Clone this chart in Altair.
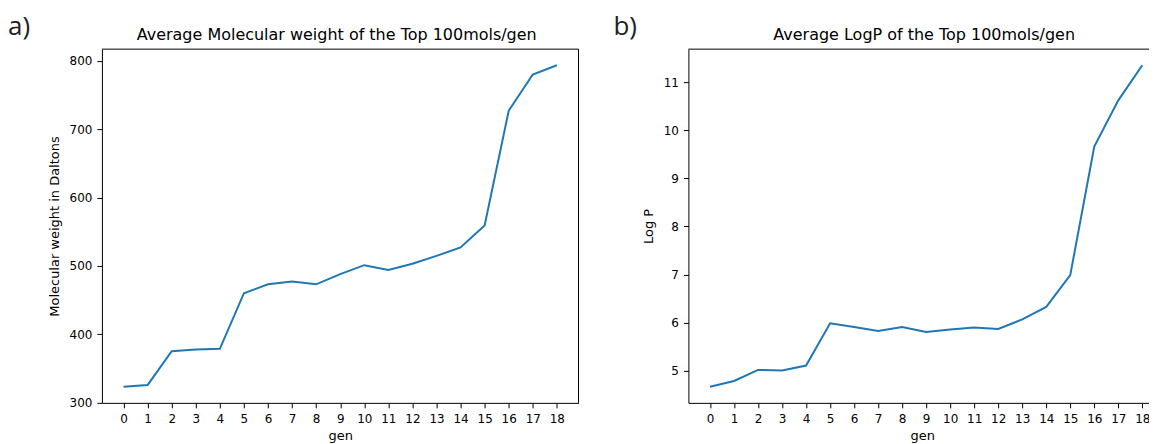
import altair as alt
import pandas as pd

gen = list(range(19))
mol_weight = [323, 325.7, 375, 377.7, 378.6, 460, 473, 477, 473, 488, 501, 494,
              503, 514.6, 527, 559, 727, 780, 793.7]
logp = [4.67, 4.79, 5.02, 5.01, 5.11, 5.99, 5.91, 5.83, 5.91, 5.81, 5.86, 5.90,
        5.87, 6.07, 6.33, 6.99, 9.66, 10.62, 11.35]

title_a = "Average Molecular weight of the Top 100mols/gen"
title_b = "Average LogP of the Top 100mols/gen"
ylabel_a = "Molecular weight in Daltons"
ylabel_b = "Log P"
xlabel = "gen"
panel_labels = ["a)", "b)"]
yticks_a = [300, 400, 500, 600, 700, 800]
yticks_b = [5, 6, 7, 8, 9, 10, 11]

df = pd.DataFrame({"gen": gen, "mw": mol_weight, "logp": logp})

FONT = "DejaVu Sans"
LINE = "#1f77b4"
H = 354
WA = 477
WB = 468


def panel(field, title, ylab, ydomain, yticks, xdomain, width, label, label_dx,
          title_cx, right_border):
    base = alt.Chart(df)
    line = base.mark_line(color=LINE, strokeWidth=2).encode(
        x=alt.X("gen:Q", title=xlabel,
                scale=alt.Scale(domain=xdomain, nice=False, zero=False),
                axis=alt.Axis(values=gen, format="d", labelPadding=6, titlePadding=5)),
        y=alt.Y(f"{field}:Q", title=ylab,
                scale=alt.Scale(domain=ydomain, nice=False, zero=False),
                axis=alt.Axis(values=yticks, format="d", labelPadding=5, titlePadding=8)),
    )
    one = pd.DataFrame({"k": [0]})
    top = alt.Chart(one).mark_rule(color="black", strokeWidth=1).encode(
        x=alt.value(0), x2=alt.value(width), y=alt.value(0))
    layers = [line, top]
    if right_border:
        right = alt.Chart(one).mark_rule(color="black", strokeWidth=1).encode(
            x=alt.value(width), y=alt.value(0), y2=alt.value(H))
        layers.append(right)
    ttl = alt.Chart(pd.DataFrame({"t": [title]})).mark_text(
        align="center", baseline="alphabetic", fontSize=16, font=FONT, color="black"
    ).encode(text="t:N", x=alt.value(title_cx), y=alt.value(-9))
    txt = alt.Chart(pd.DataFrame({"t": [label]})).mark_text(
        align="left", baseline="alphabetic", fontSize=26, font="Open Sans", color="#222"
    ).encode(text="t:N", x=alt.value(label_dx), y=alt.value(-14))
    layers += [ttl, txt]
    return alt.layer(*layers).properties(width=width, height=H)


pa = panel("mw", title_a, ylabel_a, [299.5, 817.2], yticks_a, [-0.9, 18.9], WA,
           panel_labels[0], -94, WA / 2 - 3.5, True)
pb = panel("logp", title_b, ylabel_b, [4.336, 11.684], yticks_b, [-0.9, 18.57], WB,
           panel_labels[1], -75, WB / 2 + 2, False)

chart = alt.hconcat(pa, pb, spacing=34).properties(
    padding={"left": 0, "top": 6, "right": -8, "bottom": 0}
).configure_view(stroke=None).configure_axis(
    labelFont=FONT, titleFont=FONT, labelFontSize=12, titleFontSize=13,
    titleFontWeight="normal", labelColor="black", titleColor="black",
    domainColor="black", tickColor="black", tickSize=5,
    grid=False, domainWidth=1, tickWidth=1
)

chart.save("out.html", embed_options={"renderer": "svg", "actions": False})
